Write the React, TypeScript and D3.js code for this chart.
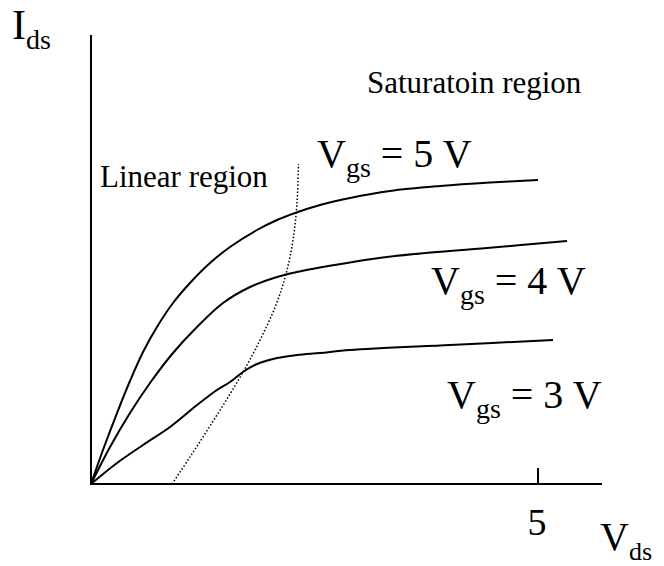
import React from "react";
import * as d3 from "d3";

type P = [number, number];

const vgs5X = [0, 0.134, 0.291, 0.436, 0.582, 0.738, 0.917, 1.107, 1.331, 1.555, 1.857, 2.081, 2.282, 2.562, 2.897, 3.345, 3.904, 4.463, 5.0];
const vgs5Y = [0, 7.57, 15.81, 22.94, 29.4, 34.97, 40.31, 44.77, 49.22, 52.78, 56.57, 58.8, 60.36, 62.14, 63.7, 65.26, 66.37, 67.15, 67.71];

const vgs4X = [0, 0.213, 0.436, 0.66, 0.917, 1.186, 1.477, 1.779, 2.081, 2.304, 2.562, 3.311, 4.43, 5.324];
const vgs4Y = [0, 8.24, 15.81, 22.49, 29.18, 34.97, 40.31, 43.88, 46.1, 47.22, 48.22, 50.56, 52.56, 54.12];

const vgs3X = [0, 0.291, 0.582, 0.884, 1.186, 1.409, 1.555, 1.7, 1.857, 2.081, 2.304, 2.562, 2.897, 4.016, 5.168];
const vgs3Y = [0, 4.68, 8.69, 12.69, 17.59, 20.94, 22.72, 24.94, 26.73, 28.06, 28.73, 29.18, 29.84, 30.96, 32.07];

const boundaryX = [0.906, 1.107, 1.331, 1.555, 1.745, 1.913, 2.069, 2.181, 2.26, 2.304, 2.321];
const boundaryY = [0, 6.01, 12.92, 20.04, 26.5, 32.96, 39.87, 46.77, 54.34, 62.58, 71.27];

const xTicks = [5];
const xAxisMax = 5.716;
const yAxisMax = 100;

const zip = (xs: number[], ys: number[]): P[] => xs.map((v, i) => [v, ys[i]]);

const FONT = '"Liberation Serif", "DejaVu Serif", "Times New Roman", Times, serif';

export default function App() {
  const x = d3.scaleLinear().domain([0, 5]).range([91, 538]);
  const y = d3.scaleLinear().domain([0, 100]).range([484, 35]);
  const line = d3
    .line<P>()
    .x((d) => x(d[0]))
    .y((d) => y(d[1]))
    .curve(d3.curveCatmullRom.alpha(0.5));

  const textStyle = { fontFamily: FONT };

  const label = (px: number, py: number, main: string, sub: string, rest: string, fs = 40, sfs = 28) => (
    <text x={px} y={py} style={textStyle} fontSize={fs} fill="#000">
      <tspan>{main}</tspan>
      <tspan dy={10} fontSize={sfs}>{sub}</tspan>
      {rest ? <tspan dy={-10}>{rest}</tspan> : null}
    </text>
  );

  const curves = [zip(vgs5X, vgs5Y), zip(vgs4X, vgs4Y), zip(vgs3X, vgs3Y)];

  return (
    <svg width={664} height={566} style={{ position: "absolute", left: 0, top: 0, background: "#fff" }}>
      <rect x={0} y={0} width={664} height={566} fill="#fff" />
      {/* axes */}
      <line x1={x(0)} y1={y(0)} x2={x(0)} y2={y(yAxisMax)} stroke="#000" strokeWidth={2} />
      <line x1={x(0) - 1} y1={y(0)} x2={x(xAxisMax)} y2={y(0)} stroke="#000" strokeWidth={2} />
      {xTicks.map((t) => (
        <g key={t}>
          <line x1={x(t)} y1={y(0)} x2={x(t)} y2={y(0) - 16} stroke="#000" strokeWidth={2} />
          <text x={x(t) - 1} y={535} textAnchor="middle" style={textStyle} fontSize={38}>
            {t}
          </text>
        </g>
      ))}
      {/* curves */}
      {curves.map((d, i) => (
        <path key={i} d={line(d) || ""} fill="none" stroke="#000" strokeWidth={2} />
      ))}
      <path d={line(zip(boundaryX, boundaryY)) || ""} fill="none" stroke="#000" strokeWidth={1.5} strokeDasharray="1.5 2" />
      {/* labels */}
      {label(12, 39, "I", "ds", "", 42, 28)}
      {label(600, 550, "V", "ds", "", 40, 26)}
      <text x={100} y={187} style={textStyle} fontSize={31}>Linear region</text>
      <text x={367} y={93} style={textStyle} fontSize={31}>Saturatoin region</text>
      {label(317, 167, "V", "gs", " = 5 V")}
      {label(431, 294, "V", "gs", " = 4 V")}
      {label(447, 408, "V", "gs", " = 3 V")}
    </svg>
  );
}
